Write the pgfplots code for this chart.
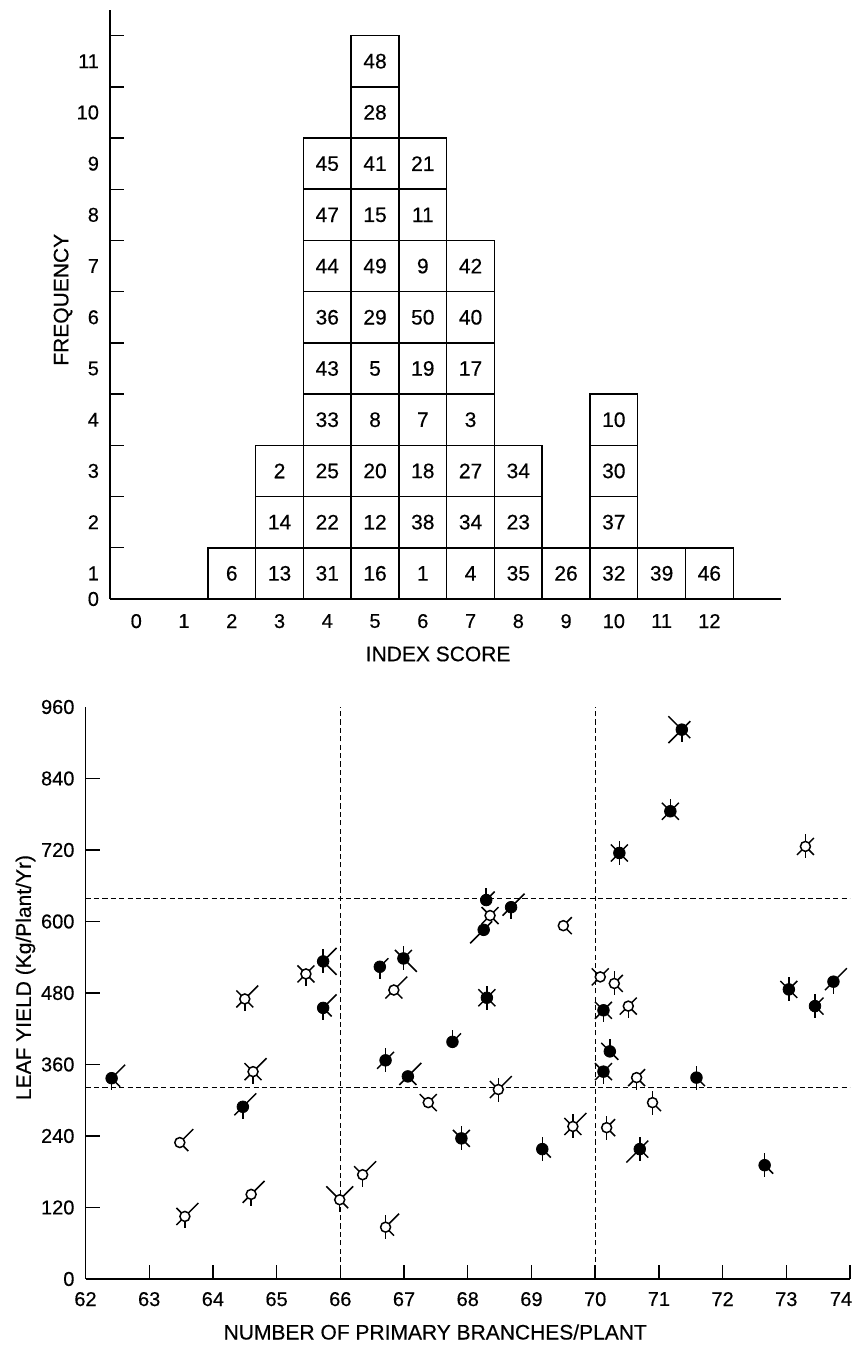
\documentclass[border=0pt]{standalone}
\usepackage{fontspec}
\setmainfont{Liberation Sans}[FakeBold=0.35]
\usepackage{pgfplots}
\usepackage{pgfplotstable}
\pgfplotsset{compat=1.18}

\pgfplotstableread{
s k lab
2 1 6
3 1 13
3 2 14
3 3 2
4 1 31
4 2 22
4 3 25
4 4 33
4 5 43
4 6 36
4 7 44
4 8 47
4 9 45
5 1 16
5 2 12
5 3 20
5 4 8
5 5 5
5 6 29
5 7 49
5 8 15
5 9 41
5 10 28
5 11 48
6 1 1
6 2 38
6 3 18
6 4 7
6 5 19
6 6 50
6 7 9
6 8 11
6 9 21
7 1 4
7 2 34
7 3 27
7 4 3
7 5 17
7 6 40
7 7 42
8 1 35
8 2 23
8 3 34
9 1 26
10 1 32
10 2 37
10 3 30
10 4 10
11 1 39
12 1 46
}\cells

% ray levels: 0 none, 1 short, 2 long
\pgfplotstableread{
x y N NE SE S SW NW
62.41 337 0 2 1 1 0 0
66.71 367 1 1 0 1 1 0
67.06 340 0 2 1 0 1 0
64.47 289 0 2 0 1 1 0
67.76 398 1 1 0 0 0 0
70.23 382 1 0 1 0 0 1
70.13 348 0 1 1 1 1 1
71.59 338 1 0 1 1 0 0
67.90 236 1 1 1 1 0 1
69.17 218 1 0 1 1 0 0
70.70 218 1 1 1 1 2 0
72.66 191 1 0 1 1 0 0
65.73 533 1 2 2 1 0 0
65.73 455 0 2 1 1 0 0
66.62 524 0 1 0 1 0 0
66.99 538 1 1 2 1 0 1
71.36 922 0 1 1 1 2 2
71.18 785 1 1 1 0 1 1
70.38 715 1 1 1 1 1 1
68.29 636 1 1 0 0 0 0
68.68 624 0 2 0 1 1 0
68.25 586 0 1 0 0 2 0
70.13 451 0 1 1 1 1 1
68.30 472 1 1 1 1 1 1
73.04 486 1 1 1 1 0 1
73.74 499 0 2 0 1 1 0
73.45 458 1 1 1 1 0 0
}\filledtbl

\pgfplotstableread{
x y N NE SE S SW NW
64.63 348 0 2 1 1 1 1
63.48 229 0 2 1 0 0 0
66.35 175 0 2 0 1 0 1
64.60 142 0 2 0 1 1 0
65.99 133 0 2 1 1 0 2
63.56 105 0 2 0 1 1 1
66.71 87 1 2 1 1 0 0
67.38 296 0 1 1 0 0 1
70.65 338 0 1 1 1 1 0
68.48 318 1 2 0 1 1 1
70.90 296 1 0 1 1 0 0
69.65 256 1 2 1 1 1 1
70.18 254 1 1 1 1 0 0
65.46 512 0 1 1 1 1 1
64.50 470 0 2 1 1 1 1
66.84 485 0 2 1 0 1 0
73.30 726 1 1 1 1 1 0
68.35 610 0 1 1 0 1 1
69.50 593 0 1 1 0 0 0
70.08 507 0 1 0 0 1 1
70.30 496 1 1 1 1 0 0
70.52 458 0 1 1 1 1 0
}\opentbl

% ray length in reference pixels: short 12, long 19
\newcommand{\raylen}[1]{((\thisrow{#1}>0)*(5+7*\thisrow{#1}))}
\newcommand{\rays}[1]{%
  \addplot[ray, quiver={u={0}, v={1.6784*\raylen{N}}}] table[x=x,y=y]{#1};
  \addplot[ray, quiver={u={0}, v={-1.6784*\raylen{S}}}] table[x=x,y=y]{#1};
  \addplot[ray, quiver={u={0.011101*\raylen{NE}}, v={1.1868*\raylen{NE}}}] table[x=x,y=y]{#1};
  \addplot[ray, quiver={u={0.011101*\raylen{SE}}, v={-1.1868*\raylen{SE}}}] table[x=x,y=y]{#1};
  \addplot[ray, quiver={u={-0.011101*\raylen{SW}}, v={-1.1868*\raylen{SW}}}] table[x=x,y=y]{#1};
  \addplot[ray, quiver={u={-0.011101*\raylen{NW}}, v={1.1868*\raylen{NW}}}] table[x=x,y=y]{#1};
}

\pgfplotsset{
  ray/.style={black, line width=0.75pt},
  dline/.style={black, line width=0.6pt, dash pattern=on 2.6pt off 1.6pt},
}

\begin{document}
\begin{tikzpicture}
\path[use as bounding box] (0pt,0pt) rectangle (428pt,674pt);

% ---------------- top: histogram ----------------
\begin{axis}[
  at={(55pt,374.5pt)}, anchor=south west,
  scale only axis, width=335.5pt, height=294.5pt,
  xmin=-0.55, xmax=13.5, ymin=0, ymax=11.5,
  axis lines=left,
  axis line style={-, line width=0.85pt},
  xtick={0,...,12},
  xtick style={draw=none},
  xticklabel style={yshift=-4pt},
  ytick={1,...,11},
  yticklabels={,,,,,,,,,,},
  extra y ticks={0,0.5,1.5,2.5,3.5,4.5,5.5,6.5,7.5,8.5,9.5,10.5},
  extra y tick labels={0,1,2,3,4,5,6,7,8,9,10,11},
  extra y tick style={major tick length=0pt},
  yticklabel style={xshift=-2pt},
  tick align=inside,
  major tick length=7pt,
  tick style={black, line width=0.7pt},
  tick label style={font=\fontsize{10}{12}\selectfont},
  /pgf/number format/assume math mode=true,
  xlabel={INDEX SCORE},
  ylabel={FREQUENCY},
  label style={font=\fontsize{10.5}{12}\selectfont},
  xlabel style={at={(axis description cs:0.489,-0.0934)}, anchor=center},
  ylabel style={at={(axis description cs:-0.070,0.508)}, anchor=center},
  clip=false,
]
\addplot[ybar, bar width=1, bar shift=0pt, draw=black, line width=0.75pt, fill=none]
  table[x=s, y=k]{\cells};
\addplot[draw=none, mark=none, nodes near coords, point meta=explicit symbolic,
  nodes near coords align={center},
  nodes near coords style={anchor=center, text=black, font=\fontsize{10.5}{12}\selectfont}]
  table[x=s, y expr=\thisrow{k}-0.5, meta=lab]{\cells};
\end{axis}

% ---------------- bottom: scatter ----------------
\begin{axis}[
  at={(42.75pt,34.5pt)}, anchor=south west,
  scale only axis, width=382.25pt, height=286pt,
  xmin=62, xmax=74, ymin=0, ymax=960,
  axis lines=left,
  axis line style={-, line width=0.85pt},
  xtick={62,...,73},
  extra x ticks={74},
  extra x tick style={xticklabel style={xshift=-4.5pt}},
  ytick={0,120,240,360,480,600,720,840},
  extra y ticks={960},
  extra y tick style={major tick length=0pt},
  tick align=inside,
  major tick length=7pt,
  tick style={black, line width=0.7pt},
  tick label style={font=\fontsize{10}{12}\selectfont},
  xticklabel style={yshift=-3pt},
  yticklabel style={xshift=-2pt},
  /pgf/number format/assume math mode=true,
  xlabel={NUMBER OF PRIMARY BRANCHES/PLANT},
  ylabel={LEAF YIELD (Kg/Plant/Yr)},
  label style={font=\fontsize{10.5}{12}\selectfont},
  xlabel style={at={(axis description cs:0.4575,-0.0927)}, anchor=center},
  ylabel style={at={(axis description cs:-0.0785,0.527)}, anchor=center},
]
\addplot[dline] coordinates {(66,0) (66,960)};
\addplot[dline] coordinates {(70,0) (70,960)};
\addplot[dline] coordinates {(62,638) (74,638)};
\addplot[dline] coordinates {(62,321) (74,321)};

\rays{\filledtbl}
\rays{\opentbl}

\addplot[only marks, mark=*, mark size=2.9pt, mark options={draw=black, fill=black}]
  table[x=x, y=y]{\filledtbl};
\addplot[only marks, mark=*, mark size=2.5pt, mark options={draw=black, fill=white, line width=0.75pt}]
  table[x=x, y=y]{\opentbl};
\end{axis}
\end{tikzpicture}
\end{document}
